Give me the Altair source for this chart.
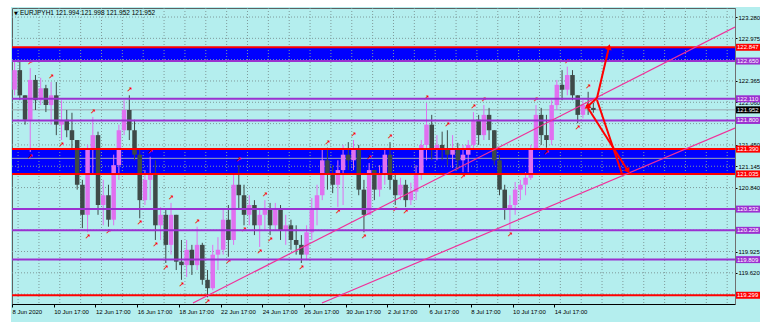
import altair as alt
import pandas as pd
import numpy as np

# ---- price data (EURJPY, grouped in 6-hour candles) ----
opens = [122.24, 122.52, 122.16, 121.81, 122.38, 122.09, 122.26, 122.02, 122.16, 121.74,
         121.81, 121.66, 121.52, 120.88, 120.45, 121.38, 121.59, 120.59, 120.73, 120.38,
         121.16, 121.66, 121.95, 121.66, 121.31, 120.66, 120.95, 121.02, 120.30, 120.45,
         120.02, 120.45, 119.78, 119.73, 119.95, 119.73, 120.02, 119.52, 119.40, 119.88,
         119.95, 120.38, 120.09, 120.88, 120.73, 120.45, 120.59, 120.30, 120.45, 120.52,
         120.30, 120.52, 120.23, 120.30, 120.09, 120.02, 119.88, 120.20, 120.52, 120.73,
         121.23, 121.02, 120.88, 121.09, 121.31, 121.23, 121.38, 120.81, 120.45, 121.09,
         120.81, 121.02, 121.31, 120.95, 120.73, 120.88, 120.66, 120.78, 121.02, 121.45,
         121.74, 121.38, 121.45, 121.38, 121.31, 121.38, 121.23, 121.31, 121.45, 121.81,
         121.59, 121.88, 121.66, 121.23, 120.81, 120.52, 120.59, 120.81, 120.88, 120.98,
         121.38, 121.88, 121.59, 121.52, 122.02, 122.31, 122.24, 122.45, 122.16, 121.88,
         122.02, 121.98]
highs = [122.64, 122.64, 122.16, 122.55, 122.45, 122.41, 122.31, 122.35, 122.35, 122.09,
         121.95, 121.91, 121.52, 120.95, 121.45, 121.85, 121.64, 120.95, 120.88, 121.31,
         121.74, 122.09, 122.16, 121.81, 121.38, 121.09, 121.28, 121.23, 120.56, 120.52,
         120.62, 120.45, 120.09, 120.09, 120.02, 120.28, 120.05, 119.66, 120.02, 120.13,
         120.52, 120.59, 121.02, 121.16, 120.88, 120.73, 120.66, 120.52, 120.66, 120.62,
         120.62, 120.59, 120.45, 120.38, 120.30, 120.16, 120.30, 120.69, 120.88, 121.38,
         121.41, 121.16, 121.23, 121.45, 121.49, 121.52, 121.45, 120.95, 121.19, 121.09,
         121.16, 121.41, 121.49, 121.02, 120.98, 120.95, 120.91, 121.16, 121.52, 122.05,
         121.88, 121.59, 121.64, 121.66, 121.59, 121.48, 121.45, 121.52, 121.92, 121.88,
         122.02, 121.98, 121.66, 121.31, 120.88, 120.73, 120.92, 120.95, 121.06, 121.45,
         122.02, 121.98, 121.88, 122.09, 122.38, 122.52, 122.57, 122.52, 122.16, 122.09,
         122.21, 122.05]
lows = [122.16, 122.09, 121.74, 121.35, 121.95, 122.02, 121.92, 121.74, 121.59, 121.52,
        121.56, 121.38, 120.81, 120.26, 120.20, 121.02, 120.45, 120.30, 120.28, 120.30,
        120.95, 121.59, 121.52, 121.23, 120.40, 120.59, 120.66, 120.09, 120.09, 119.76,
        119.88, 119.66, 119.52, 119.56, 119.59, 119.66, 119.45, 119.27, 119.37, 119.66,
        119.88, 119.85, 120.02, 120.52, 120.30, 120.30, 120.16, 119.99, 120.23, 120.16,
        120.23, 120.09, 120.02, 119.95, 119.88, 119.76, 119.80, 120.09, 120.30, 120.66,
        120.81, 120.76, 120.56, 120.59, 121.09, 121.09, 120.73, 120.20, 120.45, 120.66,
        120.71, 120.88, 120.81, 120.59, 120.66, 120.56, 120.59, 120.66, 120.95, 121.23,
        121.23, 121.23, 121.23, 121.16, 121.12, 121.09, 121.06, 121.06, 121.38, 121.45,
        121.52, 121.52, 121.16, 120.73, 120.38, 120.23, 120.45, 120.66, 120.73, 120.95,
        121.38, 121.45, 121.41, 121.45, 121.95, 122.09, 122.16, 122.09, 121.76, 121.83,
        121.88, 121.91]
closes = [122.52, 122.16, 121.81, 122.38, 122.09, 122.26, 122.02, 122.16, 121.74, 121.81,
          121.66, 121.52, 120.88, 120.45, 121.38, 121.59, 120.59, 120.73, 120.38, 121.16,
          121.66, 121.95, 121.66, 121.31, 120.66, 120.95, 121.02, 120.30, 120.45, 120.02,
          120.45, 119.78, 119.73, 119.95, 119.73, 120.02, 119.52, 119.40, 119.88, 119.95,
          120.38, 120.09, 120.88, 120.73, 120.45, 120.59, 120.30, 120.45, 120.52, 120.30,
          120.52, 120.23, 120.30, 120.09, 120.02, 119.88, 120.20, 120.52, 120.73, 121.23,
          121.02, 120.88, 121.09, 121.31, 121.23, 121.38, 120.81, 120.45, 121.09, 120.81,
          121.02, 121.31, 120.95, 120.73, 120.88, 120.66, 120.78, 121.02, 121.45, 121.74,
          121.38, 121.45, 121.38, 121.31, 121.38, 121.23, 121.31, 121.45, 121.81, 121.59,
          121.88, 121.66, 121.23, 120.81, 120.52, 120.59, 120.81, 120.88, 120.98, 121.38,
          121.88, 121.59, 121.52, 122.02, 122.31, 122.24, 122.45, 122.16, 121.88, 122.02,
          121.98, 121.95]
HOURS_PER_CANDLE = 6

# x-axis (hour index) labels
xtick_labels = ["8 Jun 2020", "10 Jun 17:00", "12 Jun 17:00", "16 Jun 17:00", "18 Jun 17:00",
                "22 Jun 17:00", "24 Jun 17:00", "26 Jun 17:00", "30 Jun 17:00", "2 Jul 17:00",
                "6 Jul 17:00", "8 Jul 17:00", "10 Jul 17:00", "14 Jul 17:00"]
xtick_bars = [0, 48, 96, 144, 192, 240, 288, 336, 384, 432, 480, 528, 576, 624]
vgrid_bars = [7 + 24 * i for i in range(35)]

# price grid and the axis labels that stay visible (others sit under level boxes)
ygrid = [123.280, 122.975, 122.670, 122.365, 122.060, 121.755, 121.450, 121.145,
         120.840, 120.535, 120.230, 119.925, 119.620, 119.315]
ylabels = [123.280, 122.975, 122.365, 122.060, 121.450, 121.145, 120.840, 119.925, 119.620]

# horizontal levels
level_prices = [122.847, 122.650, 122.110, 121.952, 121.800, 121.390, 121.035,
                120.532, 120.228, 119.809, 119.299]
level_kinds = ["red", "purple", "purple", "bid", "purple", "red", "red",
               "purple", "purple", "purple", "red"]
grey_lines = [121.952, 121.258]
band_low = [122.650, 121.035]
band_high = [122.847, 121.390]

# trend lines (start/end in hour index, price)
trend_id = ["upper", "upper", "lower", "lower"]
trend_bar = [208.3, 832.0, 356.7, 832.0]
trend_price = [119.188, 123.137, 119.188, 121.692]

# red hand-drawn arrows
arrow_x1 = [673.2, 673.2, 662.8, 673.2]
arrow_y1 = [122.121, 122.121, 121.978, 122.093]
arrow_x2 = [687.0, 661.7, 708.9, 702.0]
arrow_y2 = [122.851, 121.992, 121.077, 121.034]
arrowhead_angle = [13, 235, 148, 0]
arrowhead_show = [True, True, True, False]

title_text = "EURJPYH1  121.994 121.998 121.952 121.952"

# ---- styling ----
BG = "#b4eeee"
BULL = "#e070f0"
BEAR = "#3e4a48"
PURPLE = "#9b30d0"
RED = "#ff0000"
PINK = "#f0309a"
FONT = "Liberation Sans"
KIND_COLOR = {"red": RED, "purple": PURPLE, "bid": "#000000"}

W, H = 723, 296
xs = alt.Scale(domain=[0, 832], nice=False, zero=False)
ys = alt.Scale(domain=[119.174, 123.409], nice=False, zero=False)

lbl_js = "[" + ",".join("'%s'" % s for s in xtick_labels) + "]"
xaxis = alt.Axis(values=xtick_bars, labelExpr=lbl_js + "[round(datum.value/48)]",
                 labelAlign="left", labelFont=FONT, labelFontSize=6, labelColor="#000000",
                 labelPadding=1, tickSize=3, tickColor="#000000", domainColor="#000000",
                 grid=False, title=None, labelOverlap=False, labelFlush=False)
yaxis = alt.Axis(orient="right", values=ylabels, format=".3f", labelFont=FONT, labelFontSize=6,
                 labelColor="#000000", labelPadding=1, tickSize=2, tickColor="#000000",
                 domainColor="#707070", grid=False, title=None, labelOverlap=False,
                 labelFlush=False)


def X(f):
    return alt.X(f, type="quantitative", scale=xs, axis=xaxis)


def Y(f):
    return alt.Y(f, type="quantitative", scale=ys, axis=yaxis)


# ---- data frames ----
n = len(opens)
k = np.arange(n)
cd = pd.DataFrame({"open": opens, "high": highs, "low": lows, "close": closes})
cd["mid"] = k * HOURS_PER_CANDLE + HOURS_PER_CANDLE / 2
cd["x0"] = k * HOURS_PER_CANDLE + 0.4
cd["x1"] = k * HOURS_PER_CANDLE + HOURS_PER_CANDLE - 0.4
cd["col"] = np.where(cd["close"] >= cd["open"], BULL, BEAR)

h = cd["high"].values
l = cd["low"].values
up_idx = [i for i in range(1, n - 1) if h[i] > h[i - 1] and h[i] >= h[i + 1]]
dn_idx = [i for i in range(1, n - 1) if l[i] < l[i - 1] and l[i] <= l[i + 1]]
frac_up = pd.DataFrame({"mid": cd["mid"].values[up_idx], "p": h[up_idx]})
frac_dn = pd.DataFrame({"mid": cd["mid"].values[dn_idx], "p": l[dn_idx]})

lv = pd.DataFrame({"p": level_prices, "kind": level_kinds,
                   "col": [KIND_COLOR[s] for s in level_kinds],
                   "lab": ["%.3f" % v for v in level_prices]})
bands = pd.DataFrame({"lo": band_low, "hi": band_high})
greys = pd.DataFrame({"p": grey_lines})
hgrid = pd.DataFrame({"p": ygrid})
vgrid = pd.DataFrame({"b": vgrid_bars})
trend = pd.DataFrame({"id": trend_id, "b": trend_bar, "p": trend_price})
arr = pd.DataFrame({"x1": arrow_x1, "y1": arrow_y1, "x2": arrow_x2, "y2": arrow_y2,
                    "ang": arrowhead_angle, "show": arrowhead_show})
one = pd.DataFrame({"a": [0]})

# ---- layers ----
band_layer = alt.Chart(bands).mark_rect(color="#0000ff").encode(
    x=alt.value(0), x2=alt.value(W), y=Y("lo"), y2=alt.Y2("hi"))

hgrid_layer = alt.Chart(hgrid).mark_rule(color="#7f9a9a", strokeDash=[1, 2], strokeWidth=1).encode(
    y=Y("p"), x=alt.value(0), x2=alt.value(W))
vgrid_layer = alt.Chart(vgrid).mark_rule(color="#7f9a9a", strokeDash=[1, 2], strokeWidth=1).encode(
    x=X("b"), y=alt.value(0), y2=alt.value(H))

grey_layer = alt.Chart(greys).mark_rule(color="#9aa8b0", strokeWidth=1).encode(
    y=Y("p"), x=alt.value(0), x2=alt.value(W))

wick = alt.Chart(cd).mark_rule(strokeWidth=1).encode(
    x=X("mid"), y=Y("low"), y2=alt.Y2("high"),
    color=alt.Color("col:N", scale=None))
body = alt.Chart(cd).mark_rect().encode(
    x=X("x0"), x2=alt.X2("x1"), y=Y("open"), y2=alt.Y2("close"),
    color=alt.Color("col:N", scale=None))

fr_up = alt.Chart(frac_up).mark_text(text="↗", color=RED, font="DejaVu Sans", fontSize=7,
                                     fontWeight="bold", dy=-5).encode(x=X("mid"), y=Y("p"))
fr_dn = alt.Chart(frac_dn).mark_text(text="↗", color=RED, font="DejaVu Sans", fontSize=7,
                                     fontWeight="bold", dy=5).encode(x=X("mid"), y=Y("p"))

level_lines = alt.Chart(lv).transform_filter("datum.kind != 'bid'").mark_rule(strokeWidth=2).encode(
    y=Y("p"), x=alt.value(0), x2=alt.value(W),
    color=alt.Color("col:N", scale=None))

trend_layer = alt.Chart(trend).mark_line(color=PINK, strokeWidth=1.2, clip=True).encode(
    x=X("b"), y=Y("p"), detail="id:N")

arrow_lines = alt.Chart(arr).mark_rule(color=RED, strokeWidth=2).encode(
    x=X("x1"), y=Y("y1"), x2=alt.X2("x2"), y2=alt.Y2("y2"))
arrow_heads = alt.Chart(arr).transform_filter("datum.show").mark_point(
    shape="triangle-up", filled=True, color=RED, size=45, opacity=1).encode(
    x=X("x2"), y=Y("y2"), angle=alt.Angle("ang:Q", scale=None))

lab_box = alt.Chart(lv).transform_calculate(
    lo="datum.p - 0.05", hi="datum.p + 0.05").mark_rect().encode(
    x=alt.value(W + 1), x2=alt.value(W + 25), y=Y("lo"), y2=alt.Y2("hi"),
    color=alt.Color("col:N", scale=None))
lab_txt = alt.Chart(lv).mark_text(align="left", baseline="middle", font=FONT, fontSize=6,
                                  color="#ffffff").encode(
    x=alt.value(W + 2), y=Y("p"), text="lab:N")

white_top = alt.Chart(one).mark_rect(color="#ffffff").encode(
    x=alt.value(-12), x2=alt.value(W + 25), y=alt.value(-8), y2=alt.value(-1))
white_left = alt.Chart(one).mark_rect(color="#ffffff").encode(
    x=alt.value(-12), x2=alt.value(-1), y=alt.value(-8), y2=alt.value(H + 18))

title_tri = alt.Chart(one).mark_text(text="▼", font="DejaVu Sans", fontSize=5, color="#000000",
                                     align="left", baseline="middle").encode(
    x=alt.value(2), y=alt.value(5))
title_lbl = alt.Chart(one).mark_text(text=title_text, font=FONT, fontSize=6.5, color="#000000",
                                     align="left", baseline="middle").encode(
    x=alt.value(8), y=alt.value(5))

chart = alt.layer(
    band_layer, hgrid_layer, vgrid_layer, grey_layer, wick, body, fr_up, fr_dn,
    level_lines, trend_layer, arrow_lines, arrow_heads, lab_box, lab_txt,
    white_top, white_left, title_tri, title_lbl
).properties(
    width=W, height=H,
    autosize=alt.AutoSizeParams(type="none"),
    padding={"left": 12, "top": 8, "right": 25, "bottom": 18},
    background=BG,
).configure_view(
    fill=BG, stroke="#606060", strokeWidth=1
)

chart.save("out.html", embed_options={"renderer": "svg", "actions": False})
